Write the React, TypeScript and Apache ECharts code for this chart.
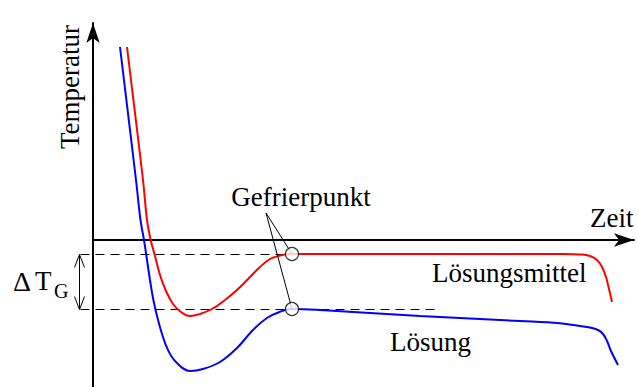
import React, { useEffect, useRef } from "react";
import * as echarts from "echarts";

// Units: time t (arbitrary), temperature T (arbitrary, 0 = level of time axis)
const solventCurve: [number, number][] = [
  [34, 193], [50, 60], [54, 20], [57.7, 0], [62, -16], [67, -35], [73, -51], [80, -64],
  [88, -72], [97, -76], [107, -74], [119, -69], [132, -60], [145, -49], [157, -37],
  [167, -27], [177, -19], [187, -15.5], [197, -14], [337, -14], [470, -14], [487, -14.5],
  [497, -16], [504, -20], [509, -27], [513, -37], [516, -49], [519, -62],
];
const solutionCurve: [number, number][] = [
  [27, 193], [43, 60], [47.5, 20], [51, 0], [54, -20], [57, -40], [60, -58], [64, -76],
  [69, -94], [75, -110], [83, -122], [97, -131], [110, -129], [127, -122], [144, -108],
  [160, -90], [174, -78], [187, -71.7], [199, -69], [227, -70], [327, -76], [427, -81],
  [467, -83.3], [487, -86], [497, -87.5], [505, -90], [510, -94], [514, -101],
  [518, -111], [525, -125],
];
const freezePoints: [number, number][] = [[199, -14], [199, -69]];
const pointerOrigin: [number, number] = [173, 27];
const solventLevel: [number, number][] = [[-13, -14], [199, -14]];
const solutionLevel: [number, number][] = [[-13, -69], [347, -69]];
const deltaArrowLine: [number, number][] = [[-14, -14], [-14, -69]];
const deltaHeadTop: [number, number][] = [[-19, -27], [-14, -14], [-9, -27]];
const deltaHeadBottom: [number, number][] = [[-19, -56], [-14, -69], [-9, -56]];
const timeRange = [0, 541];
const tempRange = [-147, 217];
const labels = {
  y: "Temperatur",
  x: "Zeit",
  freeze: "Gefrierpunkt",
  solvent: "Lösungsmittel",
  solution: "Lösung",
  delta: "Δ",
  deltaT: "T",
  deltaSub: "G",
};

const FONT = "'Liberation Serif', 'Times New Roman', serif";

export default function App() {
  const ref = useRef<HTMLDivElement>(null);
  useEffect(() => {
    if (!ref.current) return;
    const chart = echarts.init(ref.current, undefined, { renderer: "svg" });
    const axisLine = {
      show: true,
      onZero: true,
      symbol: ["none", "arrow"],
      symbolSize: [10, 20],
      lineStyle: { color: "#000", width: 2 },
    };
    const txt = (text: string, x: number, y: number, size: number, align = "left", extra: any = {}) => ({
      type: "text",
      x,
      y,
      silent: true,
      style: {
        text,
        fill: "#000",
        font: `${size}px ${FONT}`,
        align,
        verticalAlign: "middle",
      },
      ...extra,
    });
    chart.setOption({
      animation: false,
      grid: { left: 93, right: 4, top: 23, bottom: 0, containLabel: false },
      xAxis: {
        type: "value",
        min: timeRange[0],
        max: timeRange[1],
        axisLine,
        axisTick: { show: false },
        axisLabel: { show: false },
        splitLine: { show: false },
      },
      yAxis: {
        type: "value",
        min: tempRange[0],
        max: tempRange[1],
        axisLine,
        axisTick: { show: false },
        axisLabel: { show: false },
        splitLine: { show: false },
      },
      series: [
        {
          type: "line",
          data: solventCurve,
          symbol: "none",
          smooth: 0.4,
          lineStyle: { color: "#ff0000", width: 2 },
          z: 4,
        },
        {
          type: "line",
          data: solutionCurve,
          symbol: "none",
          smooth: 0.4,
          lineStyle: { color: "#0000ff", width: 2 },
          z: 4,
        },
        {
          type: "line",
          data: [pointerOrigin, freezePoints[0]],
          symbol: "none",
          lineStyle: { color: "#000", width: 1 },
          z: 5,
        },
        {
          type: "line",
          data: [pointerOrigin, freezePoints[1]],
          symbol: "none",
          lineStyle: { color: "#000", width: 1 },
          z: 5,
        },
        {
          type: "scatter",
          data: freezePoints,
          symbol: "circle",
          symbolSize: 13,
          itemStyle: { color: "#fff", borderColor: "#000", borderWidth: 1.2 },
          z: 6,
        },
      ],
    });
    const px = (p: [number, number]) => {
      const q = chart.convertToPixel({ gridIndex: 0 }, p) as number[];
      return [Math.round(q[0]) + 0.5, Math.round(q[1]) + 0.5];
    };
    const seg = (pts: [number, number][], dash?: number[]) => {
      const a = px(pts[0]);
      const b = px(pts[1]);
      return {
        type: "line",
        silent: true,
        z: 1,
        shape: { x1: a[0], y1: a[1], x2: b[0], y2: b[1] },
        style: { stroke: "#000", lineWidth: 1, lineDash: dash },
      };
    };
    const poly = (pts: [number, number][]) => ({
      type: "polyline",
      silent: true,
      z: 1,
      shape: { points: pts.map(px) },
      style: { stroke: "#000", lineWidth: 1, fill: null },
    });
    chart.setOption({
      graphic: [
        seg(solventLevel, [9, 6]),
        seg(solutionLevel, [9, 6]),
        seg(deltaArrowLine),
        poly(deltaHeadTop),
        poly(deltaHeadBottom),
        txt(labels.y, 70, 87, 27, "center", { rotation: Math.PI / 2 }),
        txt(labels.x, 590, 218, 27),
        txt(labels.freeze, 301, 197, 27, "center"),
        txt(labels.solvent, 432, 273, 27),
        txt(labels.solution, 390, 342, 27),
        txt(labels.delta, 13, 281, 28),
        txt(labels.deltaT, 35, 281, 27),
        txt(labels.deltaSub, 54, 291, 20),
      ],
    });
    return () => chart.dispose();
  }, []);
  return (
    <div
      ref={ref}
      style={{ position: "absolute", left: 0, top: 0, width: 638, height: 387, background: "#fff" }}
    />
  );
}
